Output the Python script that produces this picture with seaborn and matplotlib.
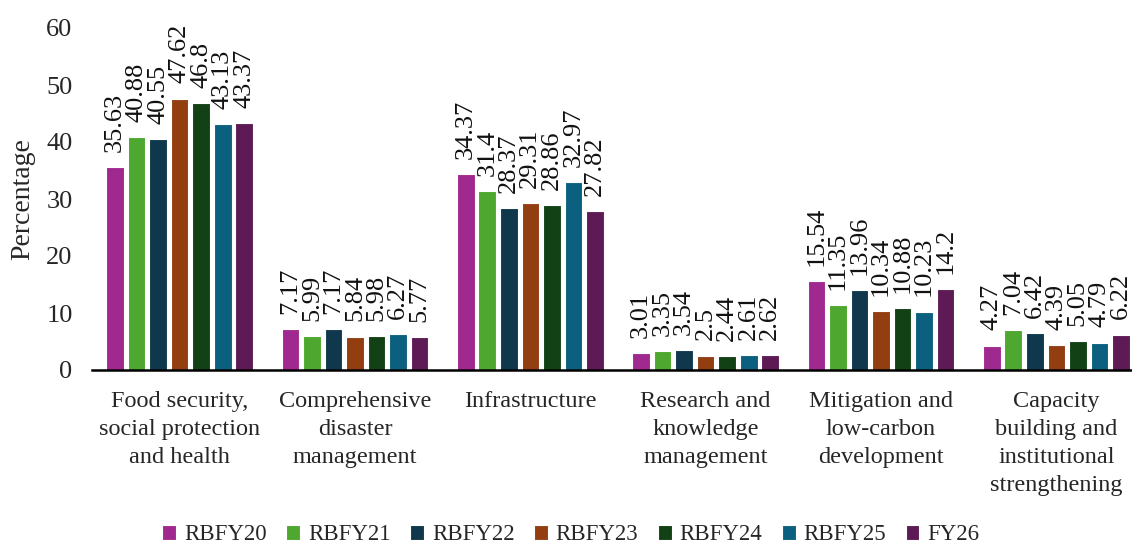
import matplotlib
matplotlib.use("Agg")
import matplotlib.pyplot as plt
import seaborn as sns
import pandas as pd

categories = [
    "Food security,\nsocial protection\nand health",
    "Comprehensive\ndisaster\nmanagement",
    "Infrastructure",
    "Research and\nknowledge\nmanagement",
    "Mitigation and\nlow-carbon\ndevelopment",
    "Capacity\nbuilding and\ninstitutional\nstrengthening",
]
series = ["RBFY20", "RBFY21", "RBFY22", "RBFY23", "RBFY24", "RBFY25", "FY26"]
rbfy20 = [35.63, 7.17, 34.37, 3.01, 15.54, 4.27]
rbfy21 = [40.88, 5.99, 31.4, 3.35, 11.35, 7.04]
rbfy22 = [40.55, 7.17, 28.37, 3.54, 13.96, 6.42]
rbfy23 = [47.62, 5.84, 29.31, 2.5, 10.34, 4.39]
rbfy24 = [46.8, 5.98, 28.86, 2.44, 10.88, 5.05]
rbfy25 = [43.13, 6.27, 32.97, 2.61, 10.23, 4.79]
fy26 = [43.37, 5.77, 27.82, 2.62, 14.2, 6.22]
colors = ["#A0298F", "#4EA72E", "#0F384C", "#933E11", "#124116", "#0B6080", "#5E1A55"]

values = [rbfy20, rbfy21, rbfy22, rbfy23, rbfy24, rbfy25, fy26]
rows = []
for name, vals in zip(series, values):
    for cat, v in zip(categories, vals):
        rows.append({"Category": cat, "Series": name, "Value": v})
df = pd.DataFrame(rows)

sns.set_style("white")
plt.rcParams["font.family"] = ["Liberation Serif", "DejaVu Serif"]
plt.rcParams["font.size"] = 17

fig = plt.figure(figsize=(11.32, 5.44), dpi=100)
ax = fig.add_axes([92 / 1132, 1 - 370 / 544, 1052 / 1132, 342 / 544])

sns.barplot(data=df, x="Category", y="Value", hue="Series", order=categories,
            hue_order=series, palette=colors, width=0.86, gap=0.18,
            edgecolor="white", linewidth=0.8, saturation=1, ax=ax, legend=True)

for cont, vals in zip(ax.containers, values):
    ax.bar_label(cont, labels=[f"{v:g}" for v in vals], rotation=90,
                 padding=11, fontsize=19, color="#111111")

ax.set_ylim(0, 60)
ax.set_yticks(range(0, 61, 10))
ax.set_xlim(-0.5, 5.5)
ax.set_xlabel("")
ax.set_ylabel("Percentage", fontsize=20, labelpad=8)
ax.tick_params(axis="y", length=0, pad=14, labelsize=19)
ax.tick_params(axis="x", length=0, pad=15, labelsize=17.5)
for lab in ax.get_xticklabels():
    lab.set_linespacing(1.45)
for s in ["top", "right", "left"]:
    ax.spines[s].set_visible(False)
ax.spines["bottom"].set_color("black")
ax.spines["bottom"].set_linewidth(1.8)

handles, labels = ax.get_legend_handles_labels()
ax.legend_.remove()
fig.legend(handles, labels, loc="center", bbox_to_anchor=(571 / 1132, 1 - 535 / 544),
           ncol=7, frameon=False, fontsize=16.5, handlelength=0.6, handleheight=0.6,
           handletextpad=0.35, columnspacing=0.85, borderaxespad=0)

fig.savefig("out.png", dpi=100)
